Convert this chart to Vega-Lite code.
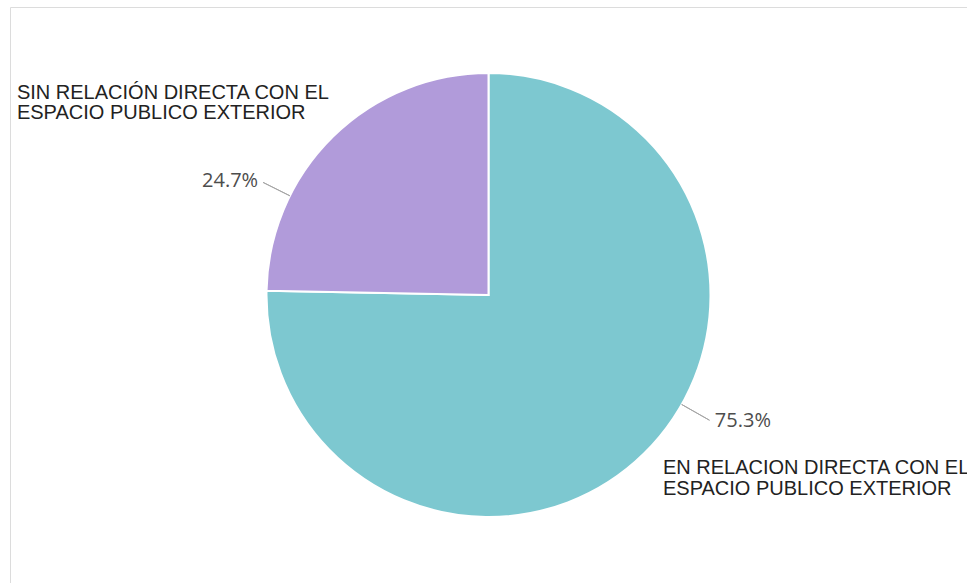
{
  "$schema": "https://vega.github.io/schema/vega-lite/v6.json",
  "width": 957,
  "height": 576,
  "autosize": {"type": "none"},
  "padding": {"left": 10, "top": 7, "right": 0, "bottom": 0},
  "background": "white",
  "view": {"stroke": "#DCDCDC", "strokeWidth": 1},
  "config": {"view": {"stroke": "#DCDCDC", "strokeWidth": 1}},
  "data": {
    "values": [
      {"category": "EN RELACION DIRECTA CON EL\nESPACIO PUBLICO EXTERIOR", "share": 0.753},
      {"category": "SIN RELACIÓN DIRECTA CON EL\nESPACIO PUBLICO EXTERIOR", "share": 0.247}
    ]
  },
  "layer": [
    {
      "mark": {"type": "arc", "outerRadius": 222, "stroke": "white", "strokeWidth": 2},
      "encoding": {
        "theta": {"field": "share", "type": "quantitative", "stack": true, "scale": {"domain": [0, 1]}},
        "color": {
          "field": "category",
          "type": "nominal",
          "scale": {
            "domain": ["EN RELACION DIRECTA CON EL\nESPACIO PUBLICO EXTERIOR", "SIN RELACIÓN DIRECTA CON EL\nESPACIO PUBLICO EXTERIOR"],
            "range": ["#7DC8D0", "#B19BDA"]
          },
          "legend": null
        },
        "order": {"field": "category", "sort": "ascending"}
      }
    },
    {
      "transform": [
        {"stack": "share", "groupby": [], "sort": [{"field": "category", "order": "ascending"}], "as": ["v0", "v1"]},
        {"fold": ["v0", "v1"], "as": ["edge", "pos"]},
        {"aggregate": [{"op": "mean", "field": "pos", "as": "mid"}], "groupby": ["category", "share"]},
        {"filter": "datum.share < 0.5"}
      ],
      "layer": [
        {
          "mark": {"type": "arc", "innerRadius": 222, "outerRadius": 252, "filled": false, "stroke": "#A6A6A6", "strokeWidth": 1, "thetaOffset": -0.3316, "theta2Offset": -0.3316},
          "encoding": {
            "theta": {"field": "mid", "type": "quantitative", "stack": null},
            "theta2": {"field": "mid"}
          }
        },
        {
          "mark": {"type": "text", "radius": 257, "thetaOffset": -0.3355, "align": "right", "baseline": "middle", "font": "Open Sans", "fontSize": 20, "color": "#4D4D4D"},
          "encoding": {
            "theta": {"field": "mid", "type": "quantitative", "stack": null},
            "text": {"field": "share", "type": "quantitative", "format": ".1%"}
          }
        },
        {
          "mark": {"type": "text", "radius": 513, "thetaOffset": -0.3901, "align": "left", "baseline": "middle", "font": "Liberation Sans", "fontSize": 20, "lineHeight": 20, "lineBreak": "\n", "color": "#222222"},
          "encoding": {
            "theta": {"field": "mid", "type": "quantitative", "stack": null},
            "text": {"field": "category", "type": "nominal"}
          }
        }
      ]
    },
    {
      "transform": [
        {"stack": "share", "groupby": [], "sort": [{"field": "category", "order": "ascending"}], "as": ["v0", "v1"]},
        {"fold": ["v0", "v1"], "as": ["edge", "pos"]},
        {"aggregate": [{"op": "mean", "field": "pos", "as": "mid"}], "groupby": ["category", "share"]},
        {"filter": "datum.share >= 0.5"}
      ],
      "layer": [
        {
          "mark": {"type": "arc", "innerRadius": 222, "outerRadius": 254, "filled": false, "stroke": "#A6A6A6", "strokeWidth": 1, "thetaOffset": -0.2793, "theta2Offset": -0.2793},
          "encoding": {
            "theta": {"field": "mid", "type": "quantitative", "stack": null},
            "theta2": {"field": "mid"}
          }
        },
        {
          "mark": {"type": "text", "radius": 259, "thetaOffset": -0.2871, "align": "left", "baseline": "middle", "font": "Open Sans", "fontSize": 20, "color": "#4D4D4D"},
          "encoding": {
            "theta": {"field": "mid", "type": "quantitative", "stack": null},
            "text": {"field": "share", "type": "quantitative", "format": ".1%"}
          }
        },
        {
          "mark": {"type": "text", "radius": 246, "thetaOffset": -0.0124, "align": "left", "baseline": "middle", "font": "Liberation Sans", "fontSize": 20, "lineHeight": 21, "lineBreak": "\n", "color": "#222222"},
          "encoding": {
            "theta": {"field": "mid", "type": "quantitative", "stack": null},
            "text": {"field": "category", "type": "nominal"}
          }
        }
      ]
    }
  ]
}
